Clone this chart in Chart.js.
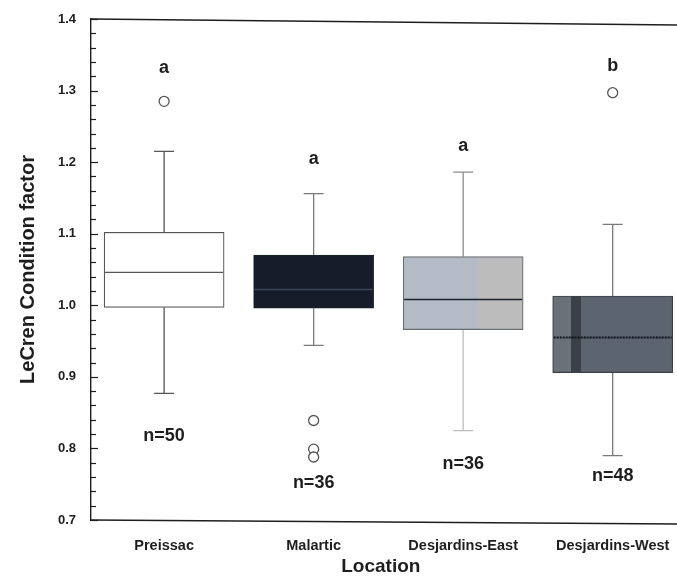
<!DOCTYPE html>
<html>
<head>
<meta charset="utf-8">
<script src="https://cdn.jsdelivr.net/npm/chart.js@4/dist/chart.umd.min.js"></script>
<style>
  html, body { margin: 0; padding: 0; background: #fff; overflow: hidden; }
  canvas { display: block; }
</style>
</head>
<body>
<canvas id="boxChart" width="677" height="581"></canvas>
<script>
// values
const locations = ['Preissac', 'Malartic', 'Desjardins-East', 'Desjardins-West'];
const q1 = [0.997, 0.996, 0.966, 0.906];
const medians = [1.046, 1.022, 1.008, 0.955];
const q3 = [1.102, 1.070, 1.068, 1.013];
const whiskerLow = [0.877, 0.944, 0.825, 0.790];
const whiskerHigh = [1.215, 1.156, 1.186, 1.113];
const outliers = [[1.285], [0.839, 0.799, 0.788], [], [1.297]];
const sampleSizes = [50, 36, 36, 48];
const groupLetters = ['a', 'a', 'a', 'b'];
const letterLevel = [1.332, 1.205, 1.222, 1.334];
const countLevel = [0.818, 0.751, 0.778, 0.761];
const yTicks = [0.7, 0.8, 0.9, 1.0, 1.1, 1.2, 1.3, 1.4];

const FONT = '"Liberation Sans", Arial, Helvetica, sans-serif';
const INK = '#1e1e1e';

// box looks (scan shading)
const boxFill = ['#ffffff', '#161c29', null, null];
const boxEdge = ['#555555', '#1a1f2b', '#6a6d73', '#3a3e45'];
const medianStyle = [
  { color: '#555555', width: 1.2, dash: [] },
  { color: '#3b4658', width: 1.5, dash: [] },
  { color: '#1c222c', width: 1.6, dash: [] },
  { color: '#0e131c', width: 2, dash: [2, 1] }
];
const whiskerColor = [['#555555', '#555555'], ['#7a7a7a', '#7a7a7a'], ['#8a8a8a', '#bdbdbd'], ['#7a7a7a', '#7a7a7a']];

function boxBackground(ctx) {
  const i = ctx.dataIndex;
  const chart = ctx.chart;
  if (boxFill[i]) return boxFill[i];
  if (!chart.chartArea) return '#999';
  const cx = chart.scales.x.getPixelForValue(i);
  const g = chart.ctx.createLinearGradient(cx - 60, 0, cx + 60, 0);
  if (i === 2) {
    g.addColorStop(0, '#b4bac6'); g.addColorStop(0.62, '#b4bac6');
    g.addColorStop(0.62, '#bcbcbd'); g.addColorStop(1, '#bcbcbd');
  } else {
    g.addColorStop(0, '#6b7179'); g.addColorStop(0.15, '#6b7179');
    g.addColorStop(0.15, '#3b3f47'); g.addColorStop(0.24, '#3b3f47');
    g.addColorStop(0.24, '#5c6470'); g.addColorStop(1, '#5c6470');
  }
  return g;
}

const boxDecor = {
  id: 'boxDecor',
  beforeDatasetsDraw(chart) {
    const { ctx, scales: { x, y } } = chart;
    ctx.save();
    locations.forEach((loc, i) => {
      const cx = x.getPixelForValue(i);
      const parts = [[q3[i], whiskerHigh[i], 0], [q1[i], whiskerLow[i], 1]];
      parts.forEach(([from, to, k]) => {
        ctx.strokeStyle = whiskerColor[i][k];
        ctx.lineWidth = 1.3;
        ctx.beginPath();
        ctx.moveTo(cx, y.getPixelForValue(from));
        ctx.lineTo(cx, y.getPixelForValue(to));
        ctx.moveTo(cx - 10, y.getPixelForValue(to));
        ctx.lineTo(cx + 10, y.getPixelForValue(to));
        ctx.stroke();
      });
    });
    ctx.restore();
  },
  afterDatasetsDraw(chart) {
    const { ctx, chartArea, scales: { x, y } } = chart;
    ctx.save();
    // medians
    locations.forEach((loc, i) => {
      const cx = x.getPixelForValue(i);
      const m = medianStyle[i];
      ctx.strokeStyle = m.color;
      ctx.lineWidth = m.width;
      ctx.setLineDash(m.dash);
      ctx.beginPath();
      ctx.moveTo(cx - 59, y.getPixelForValue(medians[i]));
      ctx.lineTo(cx + 59, y.getPixelForValue(medians[i]));
      ctx.stroke();
    });
    ctx.setLineDash([]);
    // letters and sample sizes
    ctx.fillStyle = INK;
    ctx.textAlign = 'center';
    ctx.textBaseline = 'middle';
    locations.forEach((loc, i) => {
      const cx = x.getPixelForValue(i);
      ctx.font = 'bold 18px ' + FONT;
      ctx.fillText(groupLetters[i], cx, y.getPixelForValue(letterLevel[i]));
      ctx.fillText('n=' + sampleSizes[i], cx, y.getPixelForValue(countLevel[i]));
    });
    // inward tick marks on the y axis
    ctx.strokeStyle = INK;
    ctx.lineWidth = 1.2;
    y.ticks.forEach(t => {
      const major = Math.abs(t.value * 10 - Math.round(t.value * 10)) < 1e-6;
      const py = Math.round(y.getPixelForValue(t.value)) + 0.5;
      ctx.beginPath();
      ctx.moveTo(chartArea.left, py);
      ctx.lineTo(chartArea.left + (major ? 7 : 5), py);
      ctx.stroke();
    });
    // top and bottom frame lines run off the cropped scan (slightly tilted)
    ctx.lineWidth = 1.4;
    ctx.beginPath();
    ctx.moveTo(chartArea.left, chartArea.top);
    ctx.lineTo(chart.width, chartArea.top + 6);
    ctx.moveTo(chartArea.left, chartArea.bottom);
    ctx.lineTo(chart.width, chartArea.bottom + 4);
    ctx.stroke();
    ctx.restore();
  }
};

const outlierPoints = outliers.flatMap((vals, i) => vals.map(v => ({ x: i, y: v })));

new Chart(document.getElementById('boxChart').getContext('2d'), {
  type: 'bar',
  data: {
    datasets: [
      {
        type: 'bar',
        label: 'IQR',
        data: locations.map((loc, i) => ({ x: i, y: [q1[i], q3[i]] })),
        backgroundColor: boxBackground,
        borderColor: boxEdge,
        borderWidth: 1.2,
        borderSkipped: false,
        barThickness: 120,
        clip: false
      },
      {
        type: 'scatter',
        label: 'Outliers',
        data: outlierPoints,
        pointStyle: 'circle',
        pointRadius: 5,
        pointBorderWidth: 1.3,
        pointBorderColor: '#555',
        pointBackgroundColor: '#fff',
        showLine: false
      }
    ]
  },
  options: {
    responsive: false,
    animation: false,
    layout: { padding: { top: 19, right: 0, bottom: 0, left: 0 } },
    plugins: { legend: { display: false }, tooltip: { enabled: false } },
    scales: {
      x: {
        type: 'linear',
        min: -0.489,
        max: 3.388,
        offset: false,
        afterBuildTicks: s => { s.ticks = locations.map((l, i) => ({ value: i })); },
        afterFit: s => { s.height = 61; s.paddingLeft = 0; s.paddingRight = 0; },
        grid: { display: false, drawTicks: false, offset: false },
        border: { display: false },
        ticks: {
          autoSkip: false,
          maxRotation: 0,
          padding: 17,
          color: INK,
          font: { family: FONT, size: 14.5, weight: 'bold' },
          callback: v => locations[v]
        },
        title: {
          display: true,
          text: 'Location',
          color: INK,
          font: { family: FONT, size: 19, weight: 'bold' },
          padding: { top: 0, bottom: 3 }
        }
      },
      y: {
        min: 0.7,
        max: 1.4,
        afterBuildTicks: s => {
          const t = [];
          for (let k = 35; k <= 70; k++) t.push({ value: k / 50 });
          s.ticks = t;
        },
        afterFit: s => { s.width = 91; s.paddingTop = 0; s.paddingBottom = 0; },
        grid: { display: true, drawOnChartArea: false, drawTicks: false },
        border: { display: true, color: INK, width: 1.4 },
        ticks: {
          autoSkip: false,
          padding: 15,
          color: INK,
          font: { family: FONT, size: 13, weight: 'bold' },
          callback: v => {
            const hit = yTicks.find(t => Math.abs(t - v) < 1e-6);
            return hit === undefined ? '' : hit.toFixed(1);
          }
        },
        title: {
          display: true,
          text: 'LeCren Condition factor',
          color: INK,
          font: { family: FONT, size: 20, weight: 'bold' },
          padding: { top: 16, bottom: 0 }
        }
      }
    }
  },
  plugins: [boxDecor]
});
</script>
</body>
</html>
